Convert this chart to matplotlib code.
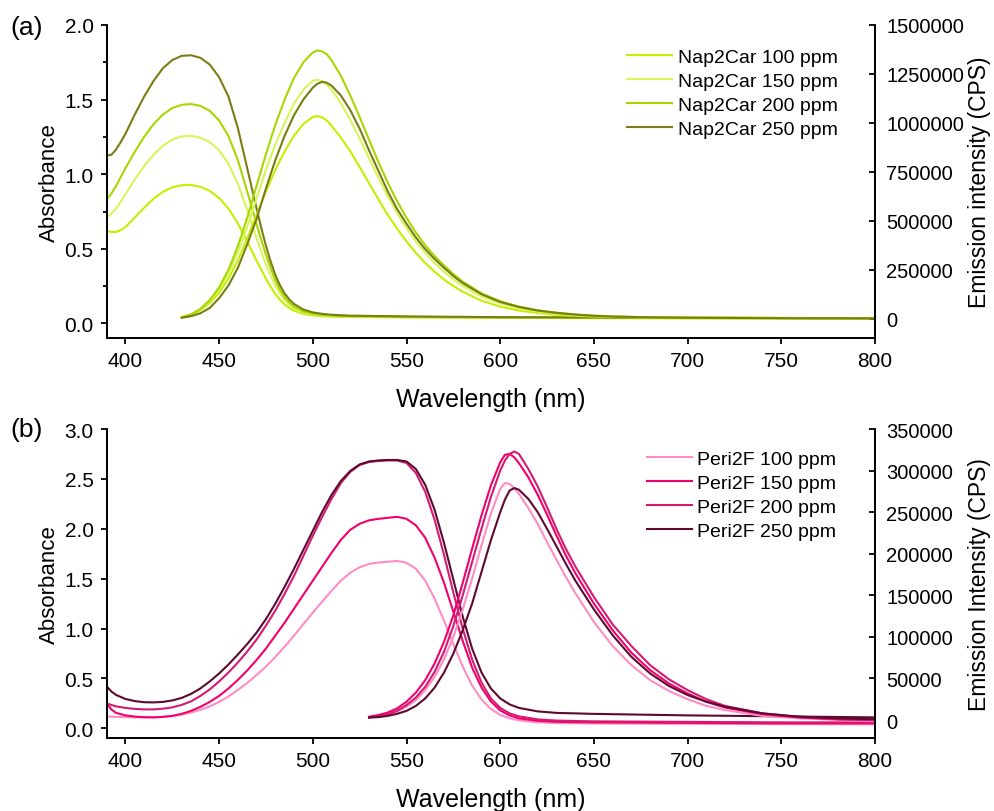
import matplotlib.pyplot as plt
from matplotlib.ticker import MultipleLocator

plt.rcParams['font.family'] = ['Liberation Sans', 'DejaVu Sans']

# ---------------- panel (a): Nap2Car ----------------
labels_a = ['Nap2Car 100 ppm', 'Nap2Car 150 ppm', 'Nap2Car 200 ppm', 'Nap2Car 250 ppm']
colors_a = ['#c4ef00', '#d6f65a', '#a6d800', '#7c7c12']

wl_abs_a = [390, 392.5, 395, 397.5, 400, 405, 410, 415, 420, 425, 430, 435, 440, 445, 450, 455,
            460, 465, 470, 472.5, 475, 477.5, 480, 482.5, 485, 487.5, 490, 495, 500, 505, 510,
            520, 550, 600, 650, 700, 750, 800]
abs_a_100 = [0.62, 0.613, 0.613, 0.625, 0.645, 0.71, 0.775, 0.835, 0.882, 0.912, 0.926, 0.928,
             0.916, 0.888, 0.84, 0.77, 0.67, 0.55, 0.42, 0.36, 0.30, 0.245, 0.197, 0.158, 0.127,
             0.103, 0.085, 0.064, 0.054, 0.048, 0.045, 0.043, 0.04, 0.037, 0.035, 0.034, 0.033,
             0.032]
abs_a_150 = [0.71, 0.735, 0.77, 0.815, 0.865, 0.965, 1.055, 1.13, 1.19, 1.232, 1.253, 1.258,
             1.245, 1.215, 1.16, 1.07, 0.935, 0.76, 0.57, 0.48, 0.395, 0.32, 0.255, 0.2, 0.158,
             0.125, 0.102, 0.074, 0.061, 0.054, 0.05, 0.046, 0.042, 0.039, 0.037, 0.035, 0.034,
             0.033]
abs_a_200 = [0.83, 0.87, 0.92, 0.98, 1.04, 1.15, 1.25, 1.335, 1.40, 1.443, 1.465, 1.47, 1.458,
             1.425, 1.36, 1.255, 1.095, 0.885, 0.665, 0.56, 0.46, 0.37, 0.29, 0.225, 0.175, 0.14,
             0.112, 0.08, 0.065, 0.057, 0.052, 0.048, 0.044, 0.04, 0.038, 0.036, 0.035, 0.034]
abs_a_250 = [1.125, 1.13, 1.165, 1.215, 1.27, 1.40, 1.52, 1.625, 1.71, 1.765, 1.793, 1.797, 1.78,
             1.735, 1.65, 1.52, 1.31, 1.04, 0.77, 0.64, 0.52, 0.415, 0.325, 0.255, 0.20, 0.16,
             0.13, 0.093, 0.074, 0.064, 0.058, 0.052, 0.047, 0.042, 0.04, 0.038, 0.036, 0.035]

wl_em_a = [430, 435, 440, 445, 450, 455, 460, 465, 470, 475, 480, 485, 490, 495, 500, 502.5,
           505, 507.5, 510, 515, 520, 525, 530, 535, 540, 545, 550, 555, 560, 565, 570, 575,
           580, 590, 600, 610, 620, 630, 640, 650, 660, 680, 700, 750, 800]
em_a_100 = [8000, 20000, 43000, 80000, 133000, 205000, 298000, 410000, 530000, 650000, 760000,
            855000, 935000, 995000, 1030000, 1035000, 1028000, 1012000, 985000, 925000, 855000,
            775000, 692000, 610000, 530000, 460000, 395000, 336000, 285000, 240000, 200000,
            167000, 138000, 92000, 62000, 42000, 29000, 20000, 15000, 11000, 9000, 7000, 5000,
            4000, 3000]
em_a_150 = [8000, 22000, 48000, 90000, 150000, 232000, 340000, 470000, 615000, 760000, 890000,
            1000000, 1100000, 1170000, 1215000, 1220000, 1212000, 1195000, 1170000, 1100000,
            1015000, 920000, 820000, 720000, 625000, 540000, 463000, 395000, 336000, 285000,
            240000, 200000, 167000, 114000, 78000, 54000, 37000, 26000, 19000, 14000, 10000,
            7000, 5000, 4000, 3000]
em_a_200 = [8000, 22000, 50000, 95000, 160000, 250000, 370000, 515000, 680000, 840000, 990000,
            1120000, 1230000, 1310000, 1360000, 1370000, 1365000, 1350000, 1320000, 1240000,
            1140000, 1030000, 915000, 800000, 695000, 600000, 515000, 440000, 375000, 320000,
            272000, 228000, 190000, 130000, 89000, 62000, 43000, 31000, 22000, 16000, 12000,
            8000, 6000, 4000, 3000]
em_a_250 = [5000, 13000, 28000, 55000, 105000, 170000, 260000, 380000, 510000, 665000, 810000,
            935000, 1040000, 1120000, 1180000, 1200000, 1210000, 1205000, 1190000, 1140000,
            1065000, 970000, 860000, 755000, 650000, 560000, 485000, 415000, 355000, 305000,
            260000, 218000, 182000, 125000, 86000, 60000, 42000, 30000, 21000, 15000, 11000,
            7000, 5000, 3000, 2000]

# ---------------- panel (b): Peri2F ----------------
labels_b = ['Peri2F 100 ppm', 'Peri2F 150 ppm', 'Peri2F 200 ppm', 'Peri2F 250 ppm']
colors_b = ['#ff8cc6', '#f2006c', '#d61a72', '#5e0a30']

wl_abs_b = [390, 392.5, 395, 400, 405, 410, 415, 420, 425, 430, 435, 440, 445, 450, 455, 460,
            465, 470, 475, 480, 485, 490, 495, 500, 505, 510, 515, 520, 525, 530, 535, 540,
            545, 550, 555, 560, 565, 570, 575, 580, 585, 590, 595, 600, 605, 610, 620, 630,
            650, 700, 750, 800]
abs_b_100 = [0.12, 0.117, 0.115, 0.112, 0.11, 0.11, 0.111, 0.115, 0.123, 0.137, 0.158, 0.185,
             0.22, 0.265, 0.32, 0.385, 0.455, 0.535, 0.62, 0.715, 0.82, 0.93, 1.045, 1.16, 1.27,
             1.38, 1.48, 1.56, 1.615, 1.648, 1.662, 1.67, 1.678, 1.66, 1.60, 1.48, 1.30, 1.08,
             0.845, 0.62, 0.43, 0.29, 0.195, 0.135, 0.10, 0.08, 0.06, 0.053, 0.048, 0.045,
             0.042, 0.04]
abs_b_150 = [0.25, 0.19, 0.155, 0.13, 0.118, 0.112, 0.11, 0.115, 0.125, 0.145, 0.175, 0.215,
             0.265, 0.325, 0.40, 0.485, 0.58, 0.685, 0.80, 0.93, 1.06, 1.20, 1.34, 1.48, 1.62,
             1.76, 1.89, 1.99, 2.05, 2.085, 2.10, 2.11, 2.12, 2.10, 2.035, 1.91, 1.71, 1.46,
             1.17, 0.875, 0.61, 0.41, 0.27, 0.18, 0.13, 0.10, 0.076, 0.066, 0.06, 0.055, 0.05,
             0.05]
abs_b_200 = [0.25, 0.235, 0.22, 0.205, 0.195, 0.19, 0.19, 0.197, 0.21, 0.235, 0.27, 0.325, 0.39,
             0.47, 0.56, 0.66, 0.77, 0.89, 1.03, 1.18, 1.35, 1.53, 1.73, 1.93, 2.12, 2.30, 2.46,
             2.57, 2.64, 2.67, 2.68, 2.685, 2.685, 2.66, 2.56, 2.37, 2.09, 1.74, 1.36, 1.00,
             0.69, 0.46, 0.30, 0.205, 0.15, 0.12, 0.09, 0.078, 0.07, 0.065, 0.06, 0.06]
abs_b_250 = [0.42, 0.37, 0.335, 0.295, 0.273, 0.262, 0.26, 0.265, 0.28, 0.305, 0.345, 0.40,
             0.47, 0.55, 0.64, 0.74, 0.845, 0.96, 1.095, 1.25, 1.42, 1.60, 1.79, 1.98, 2.17,
             2.34, 2.48, 2.58, 2.645, 2.675, 2.685, 2.69, 2.69, 2.675, 2.60, 2.44, 2.19, 1.86,
             1.49, 1.12, 0.80, 0.56, 0.40, 0.30, 0.24, 0.205, 0.17, 0.155, 0.145, 0.13, 0.12,
             0.11]

wl_em_b = [530, 535, 540, 545, 550, 555, 560, 565, 570, 575, 580, 585, 590, 595, 600, 602.5,
           605, 607.5, 610, 615, 620, 625, 630, 635, 640, 650, 660, 670, 680, 690, 700, 710,
           720, 740, 760, 780, 800]
em_b_100 = [3000, 4500, 7000, 10500, 16000, 24000, 36000, 52000, 73000, 100000, 133000, 170000,
            210000, 248000, 278000, 285000, 284000, 279000, 272000, 255000, 236000, 214000,
            193000, 172000, 153000, 118000, 89000, 66000, 48000, 35000, 25000, 17000, 12000,
            5000, 2000, 0, -1000]
em_b_150 = [4000, 6000, 9000, 14000, 22000, 33000, 48000, 68000, 94000, 126000, 165000, 206000,
            246000, 282000, 310000, 319000, 320000, 316000, 309000, 292000, 271000, 247000,
            222000, 198000, 177000, 140000, 108000, 81000, 60000, 44000, 32000, 22000, 15000,
            7000, 3000, 1000, 0]
em_b_200 = [3000, 4500, 7000, 11000, 18000, 27000, 40000, 58000, 82000, 113000, 150000, 190000,
            230000, 268000, 300000, 312000, 320000, 323000, 320000, 302000, 281000, 256000,
            230000, 206000, 185000, 148000, 115000, 89000, 66000, 49000, 36000, 25000, 17000,
            8000, 3500, 1000, 0]
em_b_250 = [3000, 3500, 5000, 7500, 11000, 17000, 26000, 39000, 57000, 80000, 108000, 140000,
            178000, 216000, 250000, 265000, 276000, 279000, 277000, 266000, 250000, 230000,
            209000, 188000, 168000, 133000, 102000, 76000, 56000, 41000, 30000, 22000, 16000,
            8000, 4000, 2000, 1000]

fig = plt.figure(figsize=(9.94, 8.12), dpi=100)


def style_panel(ax, ax2, ylim, y2lim, ystep, y2step, yminor, right_label):
    ax.set_xlim(390, 800)
    ax.set_ylim(*ylim)
    ax2.set_ylim(*y2lim)
    ax.xaxis.set_major_locator(MultipleLocator(50))
    ax.yaxis.set_major_locator(MultipleLocator(ystep))
    if yminor:
        ax.yaxis.set_minor_locator(MultipleLocator(yminor))
    ax2.yaxis.set_major_locator(MultipleLocator(y2step))
    ax.yaxis.set_major_formatter(lambda v, p: f'{v:.1f}')
    ax2.yaxis.set_major_formatter(lambda v, p: f'{v:.0f}')
    for a in (ax, ax2):
        a.spines['top'].set_visible(False)
        for s in a.spines.values():
            s.set_linewidth(1.3)
    ax.tick_params(axis='both', which='major', direction='out', length=4.3, width=1.3,
                   labelsize=15, pad=5)
    ax.tick_params(axis='y', which='minor', direction='out', length=2.6, width=1.3)
    ax2.tick_params(axis='y', which='major', direction='in', length=4.3, width=1.3,
                    labelsize=14.5, pad=8)
    ax.set_xlabel('Wavelength (nm)', fontsize=18, labelpad=12)
    ax.set_ylabel('Absorbance', fontsize=16, labelpad=3)
    ax2.set_ylabel(right_label, fontsize=16.5)
    # right label anchored just left of x = 968.5 px
    ax2.yaxis.set_label_coords((968.5 - 106.7) / 768.4, 0.5)


# panel (a)
ax_a = fig.add_axes([0.1073, 0.5821, 0.7730, 0.3859])
ax_a2 = ax_a.twinx()
for y, c in zip([abs_a_100, abs_a_150, abs_a_200, abs_a_250], colors_a):
    ax_a.plot(wl_abs_a, y, color=c, lw=1.5)
handles = []
for y, c, lab in zip([em_a_100, em_a_150, em_a_200, em_a_250], colors_a, labels_a):
    h, = ax_a2.plot(wl_em_a, y, color=c, lw=1.5, label=lab)
    handles.append(h)
style_panel(ax_a, ax_a2, (-0.1, 2.0), (-100000, 1500000), 0.5, 250000, 0.25,
            'Emission intensity (CPS)')
ax_a2.legend(handles=handles, loc='upper left', bbox_to_anchor=(0.621, 0.951),
             bbox_transform=fig.transFigure, frameon=False, fontsize=14,
             handlelength=2.3, handletextpad=0.3, labelspacing=0.33, borderpad=0)
fig.text(0.010, 0.9655, '(a)', fontsize=19, va='center', ha='left')

# panel (b)
ax_b = fig.add_axes([0.1073, 0.0895, 0.7730, 0.3809])
ax_b2 = ax_b.twinx()
for y, c in zip([abs_b_100, abs_b_150, abs_b_200, abs_b_250], colors_b):
    ax_b.plot(wl_abs_b, y, color=c, lw=1.5)
handles = []
for y, c, lab in zip([em_b_100, em_b_150, em_b_200, em_b_250], colors_b, labels_b):
    h, = ax_b2.plot(wl_em_b, y, color=c, lw=1.5, label=lab)
    handles.append(h)
style_panel(ax_b, ax_b2, (-0.1, 3.0), (-22000, 350000), 0.5, 50000, None,
            'Emission Intensity (CPS)')
ax_b2.legend(handles=handles, loc='upper left', bbox_to_anchor=(0.641, 0.4566),
             bbox_transform=fig.transFigure, frameon=False, fontsize=14,
             handlelength=2.3, handletextpad=0.3, labelspacing=0.33, borderpad=0)
fig.text(0.010, 0.4705, '(b)', fontsize=19, va='center', ha='left')

fig.savefig('out.png', dpi=100)
